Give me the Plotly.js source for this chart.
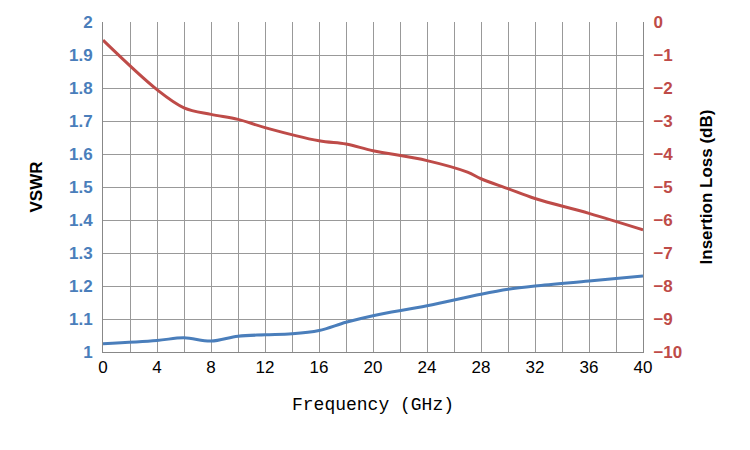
<!DOCTYPE html>
<html><head>
<script src="https://cdn.plot.ly/plotly-3.0.1.min.js"></script>
<style>body{margin:0}#chart{width:750px;height:450px}</style>
</head><body>
<div id="chart"></div>
<script>
const freq = [0, 4, 6, 8, 10, 12, 14, 16, 18, 20, 24, 28, 30, 32, 36, 40];
const vswr = [1.025, 1.035, 1.043, 1.033, 1.048, 1.052, 1.055, 1.065, 1.09, 1.11, 1.14, 1.175, 1.19, 1.2, 1.215, 1.23];
const lossFreq = [0, 4, 6, 8, 10, 12, 16, 18, 20, 24, 27, 28, 30, 32, 36, 40];
const loss = [-0.55, -2.05, -2.6, -2.8, -2.95, -3.2, -3.6, -3.7, -3.9, -4.2, -4.55, -4.75, -5.05, -5.35, -5.8, -6.3];

const BLUE = "#4a7ebb", RED = "#be4b48";
const tickFont = c => ({family:"Liberation Sans, Arial", size:17, color:c, weight:"bold"});

Plotly.newPlot("chart", [
  {x:freq, y:vswr, type:"scatter", mode:"lines", line:{color:BLUE, width:3, shape:"spline"}, name:"VSWR"},
  {x:lossFreq, y:loss, type:"scatter", mode:"lines", yaxis:"y2", line:{color:RED, width:3, shape:"spline"}, name:"Insertion Loss"}
], {
  width:750, height:450, showlegend:false,
  margin:{l:103, r:107, t:22, b:98},
  paper_bgcolor:"#fff", plot_bgcolor:"#fff",
  xaxis:{range:[0,40], dtick:4, showgrid:true, gridcolor:"#999",
    minor:{dtick:2, showgrid:true, gridcolor:"#999"},
    linecolor:"#888", showline:true, zeroline:false, ticks:"",
    tickfont:{family:"Liberation Sans, Arial", size:17, color:"#000"},
    title:{text:"Frequency (GHz)", font:{family:"Liberation Mono, monospace", size:18, color:"#000"}, standoff:20}},
  yaxis:{range:[1,2], dtick:0.1, gridcolor:"#999", linecolor:"#888", showline:true, zeroline:false,
    tickfont:tickFont(BLUE), ticks:"outside", ticklen:6, tickcolor:"#fff",
    title:{text:"VSWR", font:{family:"Liberation Sans, Arial", size:17, color:"#000", weight:"bold"}, standoff:22}},
  yaxis2:{range:[-10,0], dtick:1, overlaying:"y", side:"right", showgrid:false, zeroline:false,
    linecolor:"#888", showline:true, tickfont:tickFont(RED), ticks:"outside", ticklen:6, tickcolor:"#fff",
    title:{text:"Insertion Loss (dB)", font:{family:"Liberation Sans, Arial", size:17, color:"#000", weight:"bold"}, standoff:18}}
}, {displayModeBar:false});
</script>
</body></html>
